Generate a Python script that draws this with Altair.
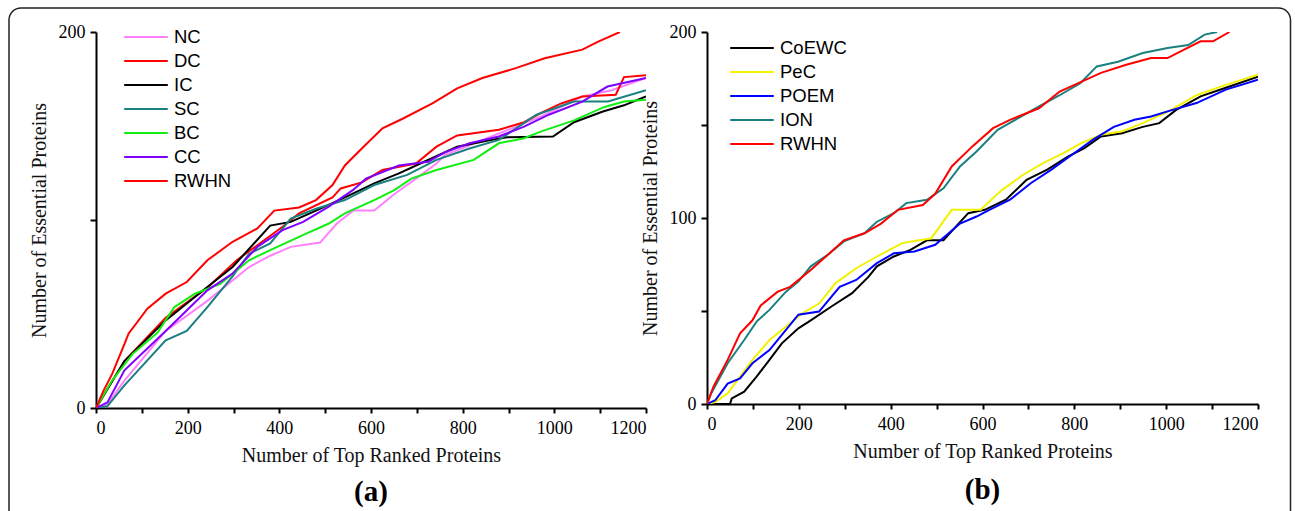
import altair as alt
import pandas as pd

# ---------------- Panel (a) data ----------------
a_series = ["NC", "DC", "IC", "SC", "BC", "CC", "RWHN"]
a_colors = ["#ff80ff", "#ff0000", "#000000", "#1a8080", "#11ee11", "#7f00ff", "#ff0000"]

nc_x = [0, 25, 62, 152, 243, 334, 380, 425, 489, 525, 561, 607, 652, 698, 743, 761, 788, 879, 970, 1061, 1125, 1200]
nc_y = [0, 2, 14.6, 41, 57, 75, 81, 85.7, 88, 98, 105, 105, 114, 122, 130, 134.6, 137, 146, 155, 165.7, 169, 175.5]

dc_x = [0, 62, 152, 243, 307, 352, 407, 443, 516, 534, 580, 625, 698, 743, 788, 879, 934, 970, 1015, 1061, 1134, 1152, 1200]
dc_y = [0, 25, 48, 64, 78.6, 86.6, 96.4, 103.5, 112, 116.8, 120, 126.6, 130, 139, 145, 148, 152, 156.8, 162, 165.7, 166.6, 176, 177]

ic_x = [0, 62, 152, 234, 298, 380, 425, 480, 543, 607, 661, 716, 788, 861, 897, 997, 1043, 1106, 1152, 1200]
ic_y = [0, 25, 46.6, 62.6, 75, 97, 99, 105, 112, 119.5, 124.8, 131, 139, 142.6, 144, 144.4, 152, 157.7, 161, 165.7]

sc_x = [0, 25, 62, 152, 198, 243, 298, 334, 380, 425, 480, 543, 607, 679, 743, 815, 879, 961, 1043, 1117, 1200]
sc_y = [0, 1, 12, 36, 41, 53.7, 70, 82, 87.5, 100.8, 106, 110.6, 118.6, 124, 132, 138, 142.6, 156, 163, 163, 169]

bc_x = [0, 35, 80, 134, 171, 216, 271, 334, 380, 461, 507, 543, 607, 652, 688, 743, 824, 879, 934, 970, 1043, 1108, 1152, 1200]
bc_y = [0, 14.6, 28.8, 40, 53.7, 60.8, 66, 78.6, 84, 93, 98, 103.5, 110.6, 116, 122, 126.6, 132, 140.8, 143.5, 147, 153, 160, 163, 164]

cc_x = [0, 25, 62, 152, 243, 298, 352, 407, 452, 507, 561, 589, 661, 725, 761, 815, 879, 934, 988, 1061, 1116, 1200]
cc_y = [0, 3, 20, 41, 62.6, 71.5, 85.7, 94.6, 99, 107, 116, 122, 129, 131, 136, 140.8, 144.4, 149.7, 156, 163, 171, 175.5]

rwhn_a_x = [0, 16, 35, 62, 71, 112, 152, 198, 243, 298, 352, 389, 443, 480, 516, 543, 580, 625, 670, 734, 788, 843, 916, 979, 1061, 1097, 1143]
rwhn_a_y = [0, 9, 18, 34, 39.5, 52.8, 60.8, 67, 78.6, 88.4, 95.5, 105, 106.7, 110.6, 118.6, 129, 138, 148.8, 154, 162, 170, 175.5, 180.8, 186, 190.6, 195, 200]

# ---------------- Panel (b) data ----------------
b_series = ["CoEWC", "PeC", "POEM", "ION", "RWHN"]
b_colors = ["#000000", "#f2f200", "#0000ff", "#1a8080", "#ff0000"]

coewc_x = [0, 50, 54, 81, 108, 136, 163, 199, 226, 271, 316, 352, 370, 407, 443, 479, 515, 542, 569, 605, 651, 696, 741, 786, 822, 858, 904, 949, 985, 1021, 1075, 1130, 1200]
coewc_y = [0, 0, 3, 6.6, 14.7, 23.7, 32.6, 40.7, 45, 52.4, 59.6, 68.5, 74, 79.3, 82.9, 88, 88, 95.4, 102.6, 104.4, 109.8, 120.5, 126, 133, 137.6, 143.8, 145.6, 149, 151, 158, 165.4, 170, 176]

pec_x = [0, 18, 45, 72, 99, 136, 181, 208, 244, 280, 325, 370, 425, 461, 488, 533, 596, 642, 687, 732, 777, 813, 858, 904, 949, 1003, 1066, 1130, 1200]
pec_y = [0, 1, 5.7, 14.7, 23.7, 34.4, 43.4, 48.8, 54, 65, 73, 79.3, 86.5, 88, 89, 104.4, 104.4, 115, 123, 129.5, 135, 140, 144.8, 146.6, 151, 157, 166, 171.6, 177]

poem_x = [0, 18, 45, 72, 99, 136, 172, 199, 244, 289, 325, 370, 407, 452, 497, 551, 587, 615, 660, 705, 750, 795, 840, 886, 931, 967, 1012, 1066, 1130, 1200]
poem_y = [0, 2, 11, 13.8, 21.9, 29, 39.8, 48, 49.7, 63, 66.7, 75.7, 81, 82, 85.6, 97, 100.8, 104.4, 109.8, 118.7, 126, 134, 142, 149, 152.8, 154.6, 158, 161.8, 169, 174.4]

ion_x = [0, 9, 45, 81, 108, 136, 172, 199, 226, 262, 298, 343, 370, 407, 434, 479, 515, 551, 587, 633, 678, 723, 768, 813, 849, 895, 949, 1003, 1048, 1084, 1111]
ion_y = [0, 5.7, 21.9, 34.4, 44.3, 50.6, 60.4, 65.8, 74, 80, 87.4, 91.8, 98, 102.6, 108, 109.8, 116, 127.7, 135.8, 147.4, 153.7, 160, 166, 172.5, 181.5, 184, 188.7, 191.4, 193, 198.6, 200]

rwhn_b_x = [0, 14, 45, 72, 99, 117, 154, 181, 226, 262, 298, 343, 379, 416, 470, 497, 533, 578, 623, 660, 723, 768, 822, 858, 913, 967, 1003, 1039, 1075, 1102, 1138]
rwhn_b_y = [0, 9.3, 23.7, 38, 45, 53, 60.4, 63, 72, 80, 88, 91.8, 97, 104.4, 107, 113, 127.7, 138.5, 148.3, 152.8, 159, 168, 174, 178, 182.4, 186, 186, 190.5, 195, 195, 200]

x_ticks = list(range(0, 1300, 100))
panel_labels = ["(a)", "(b)"]

SERIF = "Liberation Serif"
SANS = "Liberation Sans"


def to_long(names, xs_list, ys_list):
    rows = []
    for k, (n, xs, ys) in enumerate(zip(names, xs_list, ys_list)):
        for i, (xv, yv) in enumerate(zip(xs, ys)):
            rows.append({"series": n, "x": xv, "y": yv, "i": i, "k": k})
    return pd.DataFrame(rows)


df_a = to_long(a_series, [nc_x, dc_x, ic_x, sc_x, bc_x, cc_x, rwhn_a_x],
               [nc_y, dc_y, ic_y, sc_y, bc_y, cc_y, rwhn_a_y])
df_b = to_long(b_series, [coewc_x, pec_x, poem_x, ion_x, rwhn_b_x],
               [coewc_y, pec_y, poem_y, ion_y, rwhn_b_y])

XTITLE = "Number of Top Ranked Proteins"
YTITLE = "Number of Essential Proteins"

axis_style = dict(grid=False, domainColor="#000", domainWidth=2, tickColor="#000", tickWidth=2,
                  labelFont=SERIF, labelFontSize=18, labelColor="#000",
                  titleFont=SERIF, titleFontSize=20, titleFontWeight="normal", titleColor="#111")


def panel(df, names, colors, y_vals, y_label_expr, leg_x, leg_y, w, h, label, label_y):
    x_axis = alt.Axis(values=x_ticks, format="d",
                      labelExpr="datum.value % 200 == 0 ? datum.label : ''",
                      title=XTITLE, tickSize=5, labelPadding=6, titlePadding=8, **axis_style)
    y_axis = alt.Axis(values=y_vals, format="d", labelExpr=y_label_expr,
                      title=YTITLE, tickSize=6, labelPadding=5, titlePadding=9, **axis_style)
    lines = alt.Chart(df).mark_line(strokeWidth=2, clip=True).encode(
        x=alt.X("x:Q", scale=alt.Scale(domain=[0, 1200], nice=False), axis=x_axis),
        y=alt.Y("y:Q", scale=alt.Scale(domain=[0, 200], nice=False), axis=y_axis),
        color=alt.Color("series:N",
                        scale=alt.Scale(domain=names, range=colors),
                        legend=alt.Legend(title=None, orient="none", legendX=leg_x, legendY=leg_y,
                                          symbolType="stroke", symbolSize=1900,
                                          symbolStrokeWidth=2, clipHeight=20, rowPadding=4,
                                          labelOffset=5, padding=0, labelFont=SANS,
                                          labelFontSize=18.5, labelColor="#000")),
        order=alt.Order("i:Q"),
    )
    lab = alt.Chart(pd.DataFrame({"t": [label]})).mark_text(
        font=SERIF, fontSize=29, fontWeight="bold", color="#000", baseline="middle", align="center"
    ).encode(text="t:N", x=alt.value(w / 2), y=alt.value(label_y))
    return lines, lab


lines_a, lab_a = panel(df_a, a_series, a_colors, [0, 100, 200],
                       "datum.value == 100 ? '' : datum.label", 27, -5, 550, 376, panel_labels[0], 460)

frame = alt.Chart(pd.DataFrame({"f": [0]})).mark_rect(
    filled=False, stroke="#222222", strokeWidth=1.5, cornerRadius=12
).encode(x=alt.value(-87), x2=alt.value(1194.5), y=alt.value(-24), y2=alt.value(498))

left = alt.layer(frame, lines_a, lab_a).properties(width=550, height=376)

lines_b, lab_b = panel(df_b, b_series, b_colors, [0, 50, 100, 150, 200],
                       "datum.value % 100 == 0 ? datum.label : ''", 22, 6, 551, 372, panel_labels[1], 458)
right = alt.layer(lines_b, lab_b).properties(width=551, height=372)

chart = alt.hconcat(left, right, spacing=61, bounds="flush").resolve_scale(color="independent").properties(
    padding={"left": 8, "top": 7, "right": 0, "bottom": 0}, background="white"
).configure_view(stroke=None)

chart.save("out.html", embed_options={"renderer": "svg", "actions": False})
